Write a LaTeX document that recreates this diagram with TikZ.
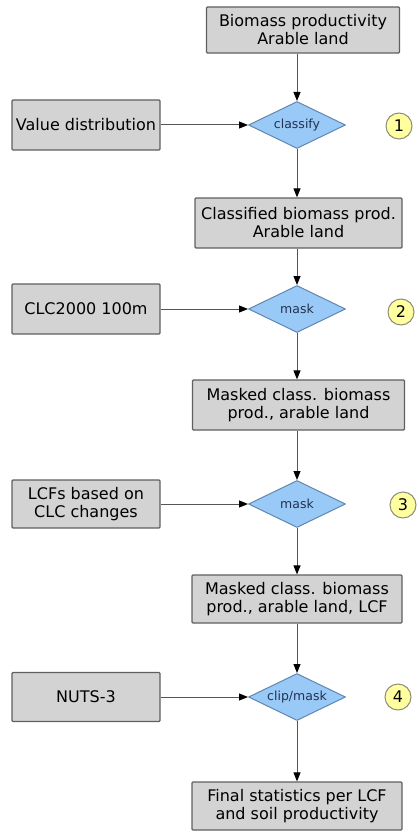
\documentclass[tikz,border=0pt]{standalone}
\usepackage{fontspec}
\setmainfont{DejaVu Sans}
\usetikzlibrary{shapes.geometric, arrows.meta}
\definecolor{boxgray}{RGB}{211,211,211}
\definecolor{boxedge}{RGB}{95,95,95}
\definecolor{diafill}{RGB}{153,201,247}
\definecolor{diaedge}{RGB}{95,135,175}
\definecolor{diatext}{RGB}{35,50,80}
\definecolor{numfill}{RGB}{255,255,160}
\definecolor{numedge}{RGB}{140,140,120}
\definecolor{flowgray}{RGB}{85,85,85}

\begin{document}
\begin{tikzpicture}[x=1pt, y=-1pt,
        databox/.style={draw=boxedge, fill=boxgray, line width=1.2pt, rounded corners=1pt,
            align=center, inner sep=0pt, text=black,
            font=\fontsize{16}{18}\selectfont},
        opdia/.style={diamond, draw=diaedge, fill=diafill, line width=1pt, aspect=2.1,
            inner sep=0pt, minimum width=97pt, minimum height=47pt, text=diatext,
            font=\fontsize{12.5}{14}\selectfont},
        stepnum/.style={circle, draw=numedge, fill=numfill, line width=1pt,
            minimum size=26pt, inner sep=0pt, font=\fontsize{16}{18}\selectfont},
        flow/.style={draw=flowgray, line width=1pt, -{Triangle[length=9pt, width=7pt, black]}}]
                \useasboundingbox (0,0) rectangle (419,832);
                % main column
                \node[databox, minimum width=193pt, minimum height=46pt] (bio) at (303,30) {Biomass productivity\\Arable land};
                \node[opdia] (classify) at (297,125) {classify};
                \node[databox, minimum width=207pt, minimum height=50pt] (classbio) at (298.5,223) {Classified biomass prod.\\Arable land};
                \node[opdia] (mask1) at (297,309) {mask};
                \node[databox, minimum width=212pt, minimum height=50pt] (maskbio) at (298.5,405) {Masked class. biomass\\prod., arable land};
                \node[opdia] (mask2) at (297,504) {mask};
                \node[databox, minimum width=210pt, minimum height=48pt] (masklcf) at (297,599) {Masked class. biomass\\prod., arable land, LCF};
                \node[opdia] (clipmask) at (297,697) {clip/mask};
                \node[databox, minimum width=210pt, minimum height=48pt] (final) at (297,806) {Final statistics per LCF\\and soil productivity};
                % inputs
                \node[databox, minimum width=148pt, minimum height=50pt] (valdist) at (86,125) {Value distribution};
                \node[databox, minimum width=148pt, minimum height=50pt] (clc) at (86,309) {CLC2000 100m};
                \node[databox, minimum width=148pt, minimum height=48pt] (lcfs) at (86,504) {LCFs based on\\CLC changes};
                \node[databox, minimum width=148pt, minimum height=49pt] (nuts) at (86,697) {NUTS-3};
                % step numbers
                \node[stepnum] (n1) at (399,126) {1};
                \node[stepnum] (n2) at (401,312) {2};
                \node[stepnum] (n3) at (403,505) {3};
                \node[stepnum] (n4) at (398,697) {4};
                % flow
                \draw[flow] (bio.south -| classify) -- (classify.north);
                \draw[flow] (classify.south) -- (classbio.north -| classify);
                \draw[flow] (classbio.south -| mask1) -- (mask1.north);
                \draw[flow] (mask1.south) -- (maskbio.north -| mask1);
                \draw[flow] (maskbio.south -| mask2) -- (mask2.north);
                \draw[flow] (mask2.south) -- (masklcf.north -| mask2);
                \draw[flow] (masklcf.south -| clipmask) -- (clipmask.north);
                \draw[flow] (clipmask.south) -- (final.north -| clipmask);
                \draw[flow] (valdist.east) -- (classify.west);
                \draw[flow] (clc.east) -- (mask1.west);
                \draw[flow] (lcfs.east) -- (mask2.west);
                \draw[flow] (nuts.east) -- (clipmask.west);
            \end{tikzpicture}
\end{document}
